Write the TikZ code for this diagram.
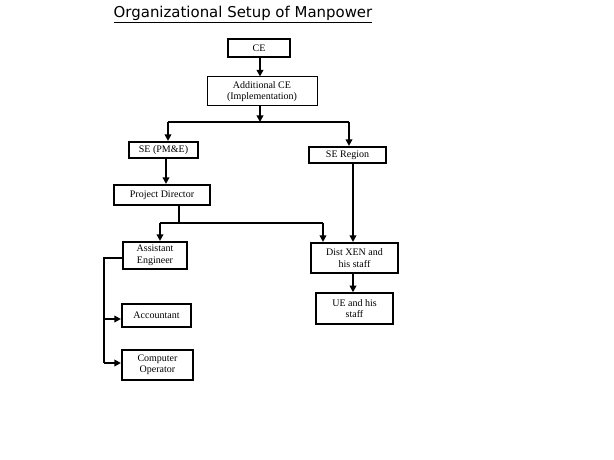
\documentclass[tikz,border=0pt]{standalone}
\usepackage{fontspec}
\setmainfont{Liberation Serif}
\newfontfamily\titlefont{DejaVu Sans}
\usetikzlibrary{arrows.meta}
\begin{document}
\begin{tikzpicture}[x=0.75pt,y=-0.75pt,
  box/.style={draw,line width=1.6pt,inner sep=0pt,align=center,font=\fontsize{7.5}{8.6}\selectfont},
  thinbox/.style={box,line width=0.75pt},
  midbox/.style={box,line width=1.1pt},
  line/.style={line width=1.4pt},
  arr/.style={line width=1.4pt,-{Triangle[length=5pt,width=5pt]}}]
\useasboundingbox[fill=white] (0,0) rectangle (614,460);
\node[font=\titlefont\fontsize{11.2}{13}\selectfont,inner sep=0pt] (title) at (243,15) {\underline{Organizational Setup of Manpower}};
\node[box,minimum width=62*0.75pt,minimum height=18*0.75pt] (ce) at (259,48) {CE};
\node[thinbox,minimum width=110*0.75pt,minimum height=29*0.75pt] (add) at (262,91.5) {Additional CE\\(Implementation)};
\node[box,minimum width=69*0.75pt,minimum height=16*0.75pt] (sepm) at (163.5,150) {SE (PM\&E)};
\node[box,minimum width=77*0.75pt,minimum height=16*0.75pt] (ser) at (347.5,155) {SE Region};
\node[box,minimum width=96*0.75pt,minimum height=20*0.75pt] (pd) at (162,195) {Project Director};
\node[box,minimum width=64*0.75pt,minimum height=27*0.75pt] (ae) at (155,255.5) {Assistant\\Engineer};
\node[box,minimum width=87*0.75pt,minimum height=30*0.75pt] (xen) at (354.5,258) {Dist XEN and\\his staff};
\node[midbox,minimum width=77*0.75pt,minimum height=31*0.75pt] (ue) at (354.5,308.5) {UE and his\\staff};
\node[box,minimum width=69*0.75pt,minimum height=23*0.75pt] (acc) at (156.5,315.5) {Accountant};
\node[box,minimum width=71*0.75pt,minimum height=30*0.75pt] (co) at (157.5,365) {Computer\\Operator};
% helper coordinates
\coordinate (x1) at (260,0);
\coordinate (b1) at (260,122);
\coordinate (b1l) at (168,122);
\coordinate (b1r) at (349,122);
\coordinate (x2) at (166,0);
\coordinate (x3) at (179,0);
\coordinate (b2) at (179,223);
\coordinate (b2l) at (160,223);
\coordinate (b2r) at (323,223);
\coordinate (x4) at (353,0);
\coordinate (lv) at (104,258);
\coordinate (lv1) at (104,319);
\coordinate (lv2) at (104,363);
% connectors
\draw[arr] (x1 |- ce.south) -- (x1 |- add.north);
\draw[arr] (b1 |- add.south) -- (b1);
\draw[line] (b1l) -- (b1r);
\draw[arr] (b1l) -- (b1l |- sepm.north);
\draw[arr] (b1r) -- (b1r |- ser.north);
\draw[arr] (x2 |- sepm.south) -- (x2 |- pd.north);
\draw[line] (x3 |- pd.south) -- (b2);
\draw[line] (b2l) -- (b2r);
\draw[arr] (b2l) -- (b2l |- ae.north);
\draw[arr] (b2r) -- (b2r |- xen.north);
\draw[arr] (x4 |- ser.south) -- (x4 |- xen.north);
\draw[arr] (x4 |- xen.south) -- (x4 |- ue.north);
\draw[line] (ae.west |- lv) -- (lv) -- (lv2);
\draw[arr] (lv1) -- (lv1 -| acc.west);
\draw[arr] (lv2) -- (lv2 -| co.west);
\end{tikzpicture}
\end{document}
